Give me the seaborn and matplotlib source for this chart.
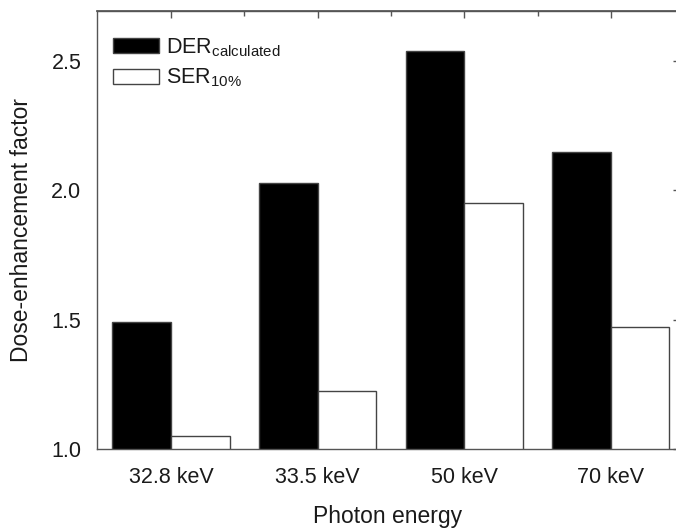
import matplotlib
matplotlib.use("Agg")
import matplotlib.pyplot as plt
from matplotlib.ticker import FixedLocator, MultipleLocator
import seaborn as sns
import pandas as pd

# values
energies = ["32.8 keV", "33.5 keV", "50 keV", "70 keV"]
der_calculated = [1.49, 2.03, 2.54, 2.15]
ser_10 = [1.05, 1.225, 1.95, 1.47]
series_labels = [r"DER$_{\mathrm{calculated}}$", r"SER$_{\mathrm{10\%}}$"]

df = pd.DataFrame({
    "energy": energies * 2,
    "factor": der_calculated + ser_10,
    "series": [series_labels[0]] * len(energies) + [series_labels[1]] * len(energies),
})

sns.set_theme(style="white")
plt.rcParams["font.family"] = ["Liberation Sans", "DejaVu Sans"]
plt.rcParams["mathtext.fontset"] = "custom"
plt.rcParams["mathtext.rm"] = "Liberation Sans"
plt.rcParams["mathtext.it"] = "Liberation Sans:italic"
plt.rcParams["mathtext.bf"] = "Liberation Sans:bold"

text_col = "#1a1a1a"
spine_col = "#555555"

fig = plt.figure(figsize=(6.76, 5.31), dpi=100)
ax = fig.add_axes([96.7 / 676, 1 - 449 / 531, (679 - 96.7) / 676, (449 - 11) / 531])

sns.barplot(data=df, x="energy", y="factor", hue="series",
            palette=["black", "white"], edgecolor="#444444", linewidth=1.0,
            width=0.8, saturation=1, ax=ax)

ax.set_ylim(1.0, 2.694)
ax.set_xlim(-0.507, 3.465)

ax.yaxis.set_major_locator(MultipleLocator(0.5))
ax.yaxis.set_minor_locator(MultipleLocator(0.25))
ax.xaxis.set_minor_locator(FixedLocator([0.5, 1.5, 2.5]))

ax.tick_params(axis="both", which="major", direction="out", length=7, width=1,
               color=spine_col, labelsize=15.5, labelcolor=text_col)
ax.tick_params(axis="both", which="minor", direction="out", length=3.5, width=1,
               color=spine_col)
ax.tick_params(axis="x", which="major", pad=6)
ax.tick_params(axis="y", which="major", pad=4)
ax.yaxis.set_major_formatter(matplotlib.ticker.FormatStrFormatter("%.1f"))

for sp in ax.spines.values():
    sp.set_color(spine_col)
    sp.set_linewidth(1.0)

# inward ticks on top and right
top = ax.secondary_xaxis("top")
top.set_xticks(range(len(energies)))
top.xaxis.set_minor_locator(FixedLocator([0.5, 1.5, 2.5]))
top.tick_params(which="major", direction="in", length=5, width=1, color=spine_col, labeltop=False)
top.tick_params(which="minor", direction="in", length=3.5, width=1, color=spine_col)
top.spines["top"].set_color(spine_col)

right = ax.secondary_yaxis("right")
right.yaxis.set_major_locator(MultipleLocator(0.5))
right.tick_params(which="major", direction="in", length=4, width=1, color=spine_col, labelright=False)
right.spines["right"].set_color(spine_col)

ax.set_xlabel("Photon energy", fontsize=16.5, color=text_col)
ax.set_ylabel("Dose-enhancement factor", fontsize=16.5, color=text_col)
ax.xaxis.set_label_coords(0.5, -0.128)
ax.yaxis.set_label_coords(-0.109, 0.5)

leg = ax.legend(loc="upper left", bbox_to_anchor=(16.3 / 582.3, (449 - 36) / 438),
                frameon=False, fontsize=15.5, borderpad=0, borderaxespad=0,
                handlelength=2.15, handleheight=0.7, handletextpad=0.3,
                labelspacing=0.38)
for t in leg.get_texts():
    t.set_color(text_col)

fig.savefig("out.png", dpi=100)
